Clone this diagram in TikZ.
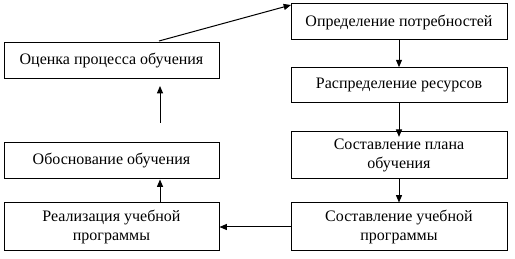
\documentclass[tikz,border=0pt]{standalone}
\usepackage{fontspec}
\setmainfont{Liberation Serif}
\usetikzlibrary{arrows.meta}
\begin{document}
\begin{tikzpicture}[x=0.75pt,y=-0.75pt,
  box/.style={draw,line width=0.75pt,rectangle,inner sep=0pt,align=center,font=\fontsize{12pt}{13.8pt}\selectfont},
  arr/.style={line width=0.75pt,-{Triangle[length=5.5pt,width=4.5pt]}}]
\useasboundingbox (0,0) rectangle (515,259);
\node[box,minimum width=161.25pt,minimum height=27pt] (A) at (111.5,61) {Оценка процесса обучения};
\node[box,minimum width=161.25pt,minimum height=27pt] (B) at (111.5,161) {Обоснование обучения};
\node[box,minimum width=161.25pt,minimum height=36pt] (C) at (111.5,227) {Реализация учебной\\программы};
\node[box,minimum width=162pt,minimum height=27pt] (D) at (399,22) {Определение потребностей};
\node[box,minimum width=162pt,minimum height=26pt] (E) at (399,85) {Распределение ресурсов};
\node[box,minimum width=162pt,minimum height=35.25pt] (F) at (399,155.5) {Составление плана\\обучения};
\node[box,minimum width=162pt,minimum height=36pt] (G) at (399,227) {Составление учебной\\программы};
\coordinate (s1) at (159,41);
\coordinate (t1) at (291,5);
\coordinate (s2) at (160,123);
\coordinate (t2) at (160,86);
\draw[arr] (s1) -- (t1);
\draw[arr] (s2) -- (t2);
\draw[arr] (D.south) -- (E.north);
\draw[arr] (E.south) -- ([yshift=-4pt]F.north);
\draw[arr] (F.south) -- (G.north);
\draw[arr] (G.west) -- (C.east);
\draw[arr] (C.north -| s2) -- (B.south -| s2);
\end{tikzpicture}
\end{document}
